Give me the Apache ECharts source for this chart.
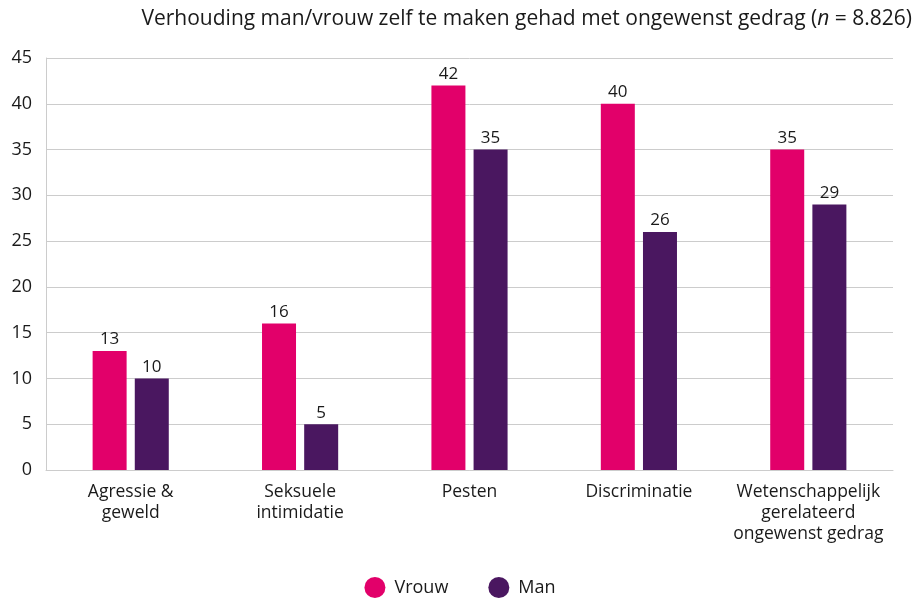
<!DOCTYPE html>
<html>
<head>
<meta charset="utf-8">
<script src="https://cdn.jsdelivr.net/npm/echarts@6/dist/echarts.min.js"></script>
<style>
  html, body { margin: 0; padding: 0; background: #fff; }
  #chart { width: 920px; height: 600px; }
</style>
</head>
<body>
<div id="chart"></div>
<script>
const categories = ['Agressie &\ngeweld', 'Seksuele\nintimidatie', 'Pesten', 'Discriminatie', 'Wetenschappelijk\ngerelateerd\nongewenst gedrag']
const vrouw = [13, 16, 42, 40, 35]
const man = [10, 5, 35, 26, 29]

const font = 'Open Sans'

const chart = echarts.init(document.getElementById('chart'))
chart.setOption({
  textStyle: { fontFamily: font },
  title: {
    text: 'Verhouding man/vrouw zelf te maken gehad met ongewenst gedrag ({i|n} = 8.826)',
    right: 3,
    top: 4,
    textStyle: {
      fontFamily: font,
      fontSize: 21,
      fontWeight: 'normal',
      color: '#1a1a1a',
      rich: { i: { fontStyle: 'italic', fontSize: 21, fontFamily: font, color: '#1a1a1a' } }
    }
  },
  grid: { left: 46, right: 27, top: 58, bottom: 130, containLabel: false },
  legend: {
    top: 577,
    left: 'center',
    padding: 0,
    icon: 'circle',
    itemWidth: 21,
    itemHeight: 21,
    itemGap: 40,
    textStyle: { fontSize: 18, color: '#1a1a1a', padding: [0, 0, 0, 4] },
    data: ['Vrouw', 'Man']
  },
  xAxis: {
    type: 'category',
    data: categories,
    axisLine: { show: true, lineStyle: { color: '#cccccc', width: 1 } },
    axisTick: { show: false },
    axisLabel: { color: '#1a1a1a', fontSize: 17.5, lineHeight: 21, margin: 12, interval: 0 }
  },
  yAxis: {
    type: 'value',
    min: 0,
    max: 45,
    interval: 5,
    axisLine: { show: true, lineStyle: { color: '#cccccc', width: 1 } },
    axisTick: { show: false },
    splitLine: { lineStyle: { color: '#cccccc', width: 1 } },
    axisLabel: { color: '#1a1a1a', fontSize: 18, margin: 14 }
  },
  series: [
    {
      name: 'Vrouw',
      type: 'bar',
      data: vrouw,
      barWidth: 34,
      barGap: '24%',
      itemStyle: { color: '#e2006a' },
      label: { show: true, position: 'top', color: '#1a1a1a', fontSize: 17, distance: 3 }
    },
    {
      name: 'Man',
      type: 'bar',
      data: man,
      barWidth: 34,
      itemStyle: { color: '#4a1760' },
      label: { show: true, position: 'top', color: '#1a1a1a', fontSize: 17, distance: 3 }
    }
  ]
})
</script>
</body>
</html>
